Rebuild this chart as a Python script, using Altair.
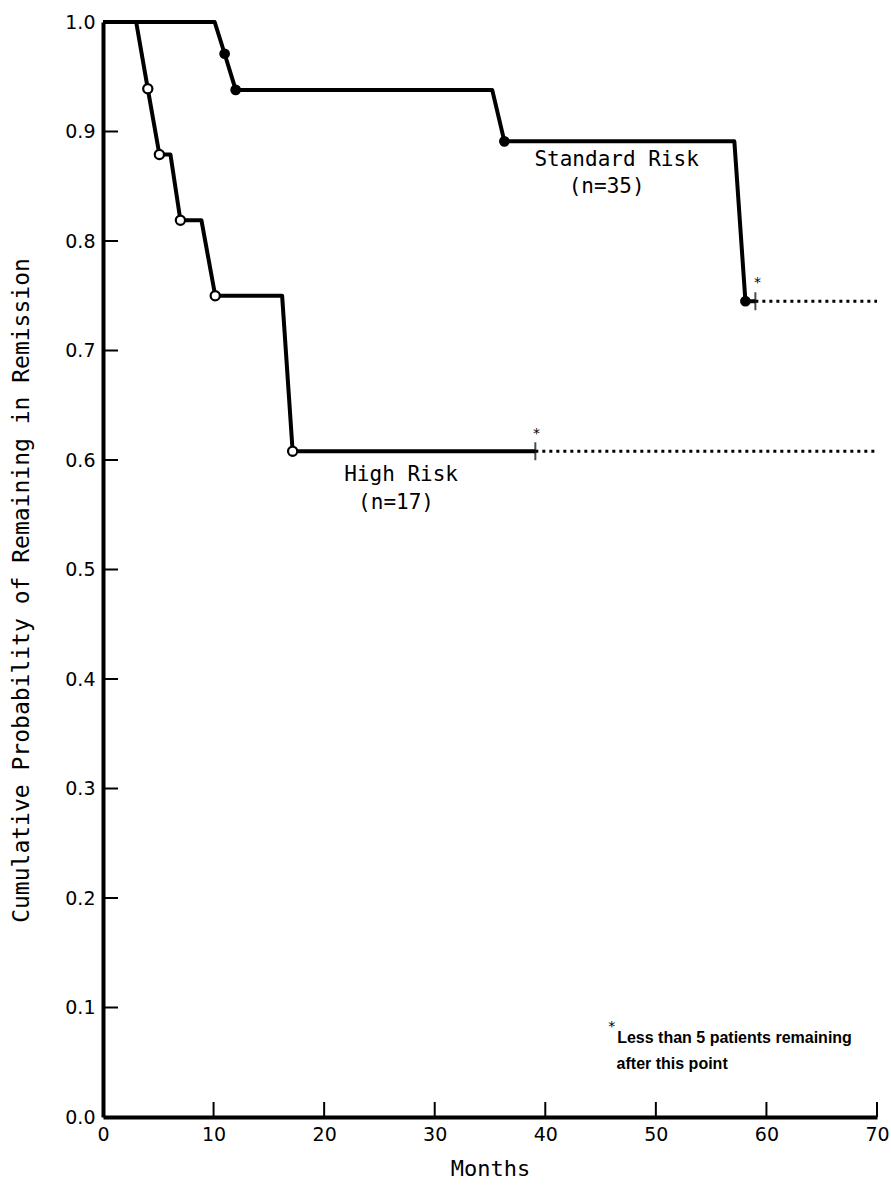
import altair as alt
import pandas as pd

# ---------------- data ----------------
# Standard risk (n=35): drawn path (slanted steps), event dots, dotted tail
std_months = [0, 10.1, 11.0, 12.0, 35.2, 36.3, 57.1, 58.1, 59.0]
std_prob = [1.0, 1.0, 0.971, 0.938, 0.938, 0.891, 0.891, 0.745, 0.745]
std_event_months = [11.0, 12.0, 36.3, 58.1]
std_event_prob = [0.971, 0.938, 0.891, 0.745]
std_tail_months = [59.0, 70.0]
std_tail_prob = [0.745, 0.745]

# High risk (n=17)
hi_months = [0, 3.0, 4.05, 5.1, 6.1, 7.0, 8.9, 10.15, 16.2, 17.15, 39.1]
hi_prob = [1.0, 1.0, 0.939, 0.879, 0.879, 0.819, 0.819, 0.750, 0.750, 0.608, 0.608]
hi_event_months = [4.05, 5.1, 7.0, 10.15, 17.15]
hi_event_prob = [0.939, 0.879, 0.819, 0.750, 0.608]
hi_tail_months = [39.1, 70.0]
hi_tail_prob = [0.608, 0.608]

# censoring marks ("less than 5 patients remaining after this point")
censor_months = [39.1, 59.0]
censor_prob = [0.608, 0.745]
star_months = [39.2, 59.2]
star_prob = [0.624, 0.762]

# axis ticks
x_tick_values = [0, 10, 20, 30, 40, 50, 60, 70]
y_tick_values = [0.0, 0.1, 0.2, 0.3, 0.4, 0.5, 0.6, 0.7, 0.8, 0.9, 1.0]
x_inner_ticks = [10, 20, 30, 40, 50, 60, 70]
y_inner_ticks = [0.1, 0.2, 0.3, 0.4, 0.5, 0.6, 0.7, 0.8, 0.9]

# curve labels
label_text = ["Standard Risk", "(n=35)", "High Risk", "(n=17)"]
label_month = [46.45, 45.55, 26.96, 26.5]
label_prob = [0.874, 0.849, 0.586, 0.561]

# footnote
note_text = ["Less than 5 patients remaining", "after this point"]
note_month = [46.5, 46.45]
note_prob = [0.068, 0.0436]
note_star_month = [46.0]
note_star_prob = [0.082]

# ---------------- tables ----------------
def path(ms, ps):
    return pd.DataFrame({"m": ms, "p": ps, "i": list(range(len(ms)))})

std_df = path(std_months, std_prob)
hi_df = path(hi_months, hi_prob)
std_tail = path(std_tail_months, std_tail_prob)
hi_tail = path(hi_tail_months, hi_tail_prob)
std_ev = pd.DataFrame({"m": std_event_months, "p": std_event_prob})
hi_ev = pd.DataFrame({"m": hi_event_months, "p": hi_event_prob})
cens = pd.DataFrame({"m": censor_months, "p": censor_prob})
stars = pd.DataFrame({"m": star_months + note_star_month, "p": star_prob + note_star_prob, "t": ["*"] * 3})
labels = pd.DataFrame({"m": label_month, "p": label_prob, "t": label_text})
notes = pd.DataFrame({"m": note_month, "p": note_prob, "t": note_text})
xt = pd.DataFrame({"m": x_inner_ticks})
yt = pd.DataFrame({"p": y_inner_ticks})

W, H = 774, 1095
xs = alt.Scale(domain=[0, 70], nice=False, zero=False)
ys = alt.Scale(domain=[0, 1], nice=False, zero=False)

MONO = "DejaVu Sans Mono"
SANS = "DejaVu Sans"

x_axis = alt.Axis(
    values=x_tick_values, ticks=False, grid=False, domainColor="black", domainWidth=4,
    labelFont=SANS, labelFontSize=19, labelColor="black", labelPadding=8, labelFlush=False,
    title="Months", titleFont=MONO, titleFontSize=22, titleFontWeight="normal",
    titleColor="black", titlePadding=14,
)
y_axis = alt.Axis(
    values=y_tick_values, format=".1f", ticks=False, grid=False, domainColor="black", domainWidth=4,
    labelFont=SANS, labelFontSize=19, labelColor="black", labelPadding=8, labelFlush=False,
    title="Cumulative Probability of Remaining in Remission", titleFont=MONO, titleFontSize=23,
    titleFontWeight="normal", titleColor="black", titleX=-82, titleY=568,
    titleAlign="center", titleBaseline="middle", titleAngle=270,
)


def bx():
    return alt.X("m:Q", scale=xs, axis=x_axis)


def by():
    return alt.Y("p:Q", scale=ys, axis=y_axis)


std_line = alt.Chart(std_df).mark_line(color="black", strokeWidth=4, strokeJoin="round").encode(
    x=bx(), y=by(), order="i:Q")
hi_line = alt.Chart(hi_df).mark_line(color="black", strokeWidth=4, strokeJoin="round").encode(
    x=bx(), y=by(), order="i:Q")
std_dots = alt.Chart(std_tail).mark_line(color="black", strokeWidth=3, strokeDash=[3, 4]).encode(
    x=bx(), y=by(), order="i:Q")
hi_dots = alt.Chart(hi_tail).mark_line(color="black", strokeWidth=3, strokeDash=[3, 4]).encode(
    x=bx(), y=by(), order="i:Q")
std_pts = alt.Chart(std_ev).mark_point(filled=True, color="black", size=115, opacity=1, shape="circle").encode(
    x=bx(), y=by())
hi_pts = alt.Chart(hi_ev).mark_point(filled=True, fill="white", stroke="black", strokeWidth=2.2,
                                    size=85, opacity=1, shape="circle").encode(x=bx(), y=by())
cens_ticks = alt.Chart(cens).mark_tick(orient="vertical", size=18, thickness=2, color="black").encode(
    x=bx(), y=by())
star_txt = alt.Chart(stars).mark_text(font=SANS, fontSize=14, color="black", baseline="middle").encode(
    x=bx(), y=by(), text="t:N")
lab_txt = alt.Chart(labels).mark_text(font=MONO, fontSize=21, color="black", baseline="middle",
                                      align="center").encode(x=bx(), y=by(), text="t:N")
note_txt = alt.Chart(notes).mark_text(font="Liberation Sans", fontSize=16,
                                      fontWeight="bold", color="black", baseline="alphabetic",
                                      align="left").encode(x=bx(), y=by(), text="t:N")
xtick_rules = alt.Chart(xt).mark_rule(color="black", strokeWidth=2).encode(
    x=bx(), y=alt.value(H), y2=alt.value(H - 15))
ytick_rules = alt.Chart(yt).mark_rule(color="black", strokeWidth=2).encode(
    y=by(), x=alt.value(0), x2=alt.value(15))

chart = alt.layer(
    std_line, hi_line, std_dots, hi_dots, xtick_rules, ytick_rules, cens_ticks,
    std_pts, hi_pts, star_txt, lab_txt, note_txt,
).properties(
    width=W, height=H,
    padding={"left": 103, "top": 22, "right": 14, "bottom": 78},
    autosize=alt.AutoSizeParams(type="none"),
    background="white",
).configure_view(stroke=None)

chart.save("out.html", embed_options={"renderer": "svg", "actions": False})
